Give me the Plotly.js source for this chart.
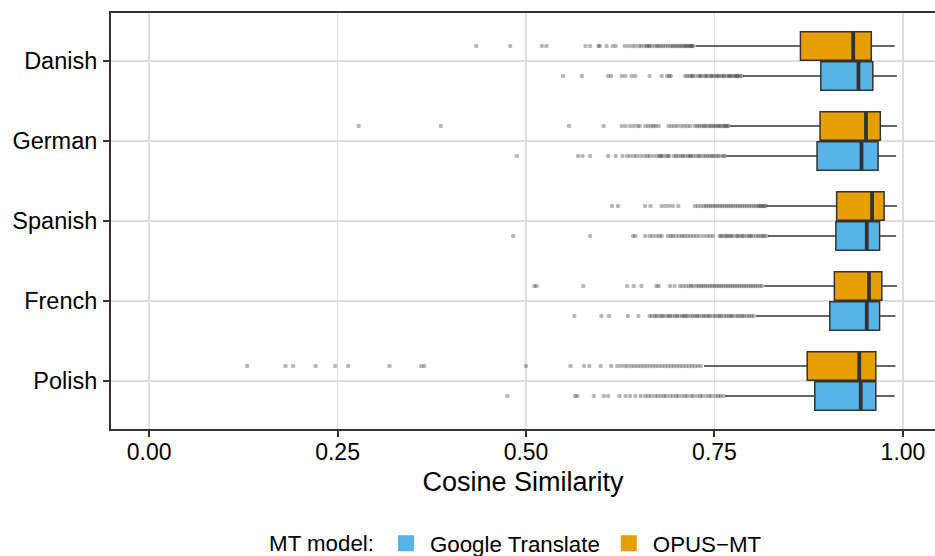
<!DOCTYPE html>
<html>
<head>
<meta charset="utf-8">
<script src="https://cdn.plot.ly/plotly-3.0.1.min.js"></script>
<style>html,body{margin:0;padding:0;background:#fff;}#chart{width:935px;height:556px;}</style>
</head>
<body>
<div id="chart"></div>
<script>
// ---- data ----
var languages = ["Danish", "German", "Spanish", "French", "Polish"];
var tickValues = [0, 0.25, 0.5, 0.75, 1];
var tickLabels = ["0.00", "0.25", "0.50", "0.75", "1.00"];
var modelNames = ["Google Translate", "OPUS\u2212MT"];

// Google Translate box statistics (order = languages)
var googleQ1 = [0.891, 0.886, 0.911, 0.903, 0.883];
var googleMedian = [0.941, 0.945, 0.952, 0.952, 0.944];
var googleQ3 = [0.960, 0.967, 0.969, 0.969, 0.964];
var googleLower = [0.788, 0.766, 0.821, 0.805, 0.764];
var googleUpper = [0.992, 0.991, 0.991, 0.990, 0.989];

// OPUS-MT box statistics
var opusQ1 = [0.864, 0.890, 0.912, 0.909, 0.873];
var opusMedian = [0.934, 0.951, 0.959, 0.955, 0.942];
var opusQ3 = [0.958, 0.970, 0.975, 0.972, 0.964];
var opusLower = [0.725, 0.771, 0.819, 0.816, 0.736];
var opusUpper = [0.989, 0.992, 0.992, 0.992, 0.990];

// Outliers, Google Translate
var googleOutDanish = [0.549, 0.574, 0.609, 0.613, 0.627, 0.632, 0.640, 0.645, 0.664, 0.680, 0.687, 0.690, 0.692, 0.711, 0.714, 0.717, 0.720, 0.721, 0.725, 0.729, 0.731, 0.733, 0.737, 0.739, 0.741, 0.745, 0.746, 0.749, 0.752, 0.754, 0.756, 0.759, 0.762, 0.763, 0.767, 0.769, 0.771, 0.773, 0.776, 0.778, 0.780, 0.781, 0.784, 0.786];
var googleOutGerman = [0.488, 0.569, 0.575, 0.585, 0.609, 0.619, 0.628, 0.634, 0.638, 0.643, 0.647, 0.652, 0.657, 0.661, 0.664, 0.669, 0.674, 0.677, 0.679, 0.681, 0.685, 0.688, 0.690, 0.696, 0.699, 0.702, 0.706, 0.708, 0.711, 0.715, 0.717, 0.719, 0.722, 0.726, 0.729, 0.731, 0.735, 0.738, 0.741, 0.744, 0.747, 0.749, 0.753, 0.755, 0.759, 0.762, 0.764];
var googleOutSpanish = [0.483, 0.585, 0.642, 0.645, 0.658, 0.664, 0.668, 0.673, 0.677, 0.680, 0.688, 0.692, 0.695, 0.699, 0.703, 0.707, 0.710, 0.714, 0.718, 0.722, 0.726, 0.730, 0.735, 0.740, 0.744, 0.748, 0.757, 0.759, 0.762, 0.765, 0.767, 0.770, 0.772, 0.775, 0.779, 0.781, 0.784, 0.787, 0.789, 0.793, 0.796, 0.798, 0.801, 0.805, 0.808, 0.811, 0.814, 0.816, 0.819];
var googleOutFrench = [0.564, 0.600, 0.610, 0.635, 0.649, 0.664, 0.667, 0.671, 0.673, 0.677, 0.680, 0.682, 0.686, 0.689, 0.691, 0.694, 0.698, 0.700, 0.703, 0.707, 0.709, 0.712, 0.714, 0.718, 0.721, 0.724, 0.727, 0.729, 0.733, 0.736, 0.739, 0.742, 0.744, 0.748, 0.751, 0.754, 0.757, 0.759, 0.763, 0.766, 0.769, 0.772, 0.774, 0.778, 0.781, 0.784, 0.787, 0.789, 0.793, 0.796, 0.799, 0.802];
var googleOutPolish = [0.475, 0.565, 0.568, 0.590, 0.603, 0.609, 0.624, 0.632, 0.638, 0.645, 0.652, 0.658, 0.662, 0.666, 0.671, 0.675, 0.679, 0.683, 0.686, 0.691, 0.695, 0.699, 0.702, 0.707, 0.711, 0.714, 0.719, 0.722, 0.727, 0.731, 0.734, 0.739, 0.743, 0.746, 0.751, 0.755, 0.758, 0.762];

// Outliers, OPUS-MT
var opusOutDanish = [0.434, 0.479, 0.521, 0.527, 0.579, 0.585, 0.596, 0.598, 0.607, 0.615, 0.619, 0.631, 0.636, 0.641, 0.645, 0.650, 0.653, 0.657, 0.660, 0.662, 0.664, 0.667, 0.671, 0.674, 0.676, 0.679, 0.682, 0.685, 0.688, 0.691, 0.694, 0.696, 0.699, 0.701, 0.704, 0.706, 0.709, 0.711, 0.713, 0.715, 0.717, 0.719, 0.720, 0.722];
var opusOutGerman = [0.278, 0.387, 0.557, 0.603, 0.627, 0.632, 0.638, 0.643, 0.648, 0.651, 0.658, 0.662, 0.666, 0.669, 0.672, 0.676, 0.689, 0.693, 0.697, 0.701, 0.706, 0.710, 0.714, 0.718, 0.724, 0.727, 0.730, 0.733, 0.736, 0.738, 0.741, 0.744, 0.746, 0.749, 0.751, 0.754, 0.756, 0.758, 0.761, 0.763, 0.765, 0.767, 0.769];
var opusOutSpanish = [0.614, 0.622, 0.658, 0.665, 0.680, 0.685, 0.690, 0.695, 0.702, 0.724, 0.728, 0.732, 0.736, 0.739, 0.742, 0.745, 0.748, 0.751, 0.754, 0.757, 0.760, 0.763, 0.766, 0.769, 0.772, 0.775, 0.778, 0.781, 0.784, 0.787, 0.790, 0.793, 0.796, 0.799, 0.802, 0.805, 0.808, 0.810, 0.812, 0.814, 0.816, 0.818];
var opusOutFrench = [0.511, 0.514, 0.576, 0.634, 0.643, 0.653, 0.673, 0.676, 0.691, 0.697, 0.704, 0.708, 0.712, 0.716, 0.719, 0.722, 0.726, 0.729, 0.732, 0.735, 0.738, 0.741, 0.744, 0.747, 0.750, 0.753, 0.756, 0.759, 0.762, 0.765, 0.768, 0.771, 0.774, 0.777, 0.780, 0.783, 0.786, 0.789, 0.792, 0.795, 0.798, 0.801, 0.804, 0.807, 0.810, 0.813];
var opusOutPolish = [0.130, 0.181, 0.191, 0.221, 0.247, 0.264, 0.319, 0.361, 0.365, 0.500, 0.559, 0.577, 0.584, 0.599, 0.613, 0.621, 0.626, 0.631, 0.635, 0.640, 0.644, 0.648, 0.652, 0.656, 0.660, 0.664, 0.668, 0.672, 0.676, 0.680, 0.684, 0.688, 0.692, 0.696, 0.700, 0.704, 0.708, 0.712, 0.716, 0.720, 0.724, 0.728, 0.732];

var googleOutliers = [googleOutDanish, googleOutGerman, googleOutSpanish, googleOutFrench, googleOutPolish];
var opusOutliers = [opusOutDanish, opusOutGerman, opusOutSpanish, opusOutFrench, opusOutPolish];

// ---- styles ----
var colGoogle = "#56B4E9";
var colOpus = "#E69F00";
var edge = "#333333";
var fontFam = "Liberation Sans, Arial, Helvetica, sans-serif";

function flatten(groups) {
  var xs = [], ys = [];
  groups.forEach(function (arr, i) {
    arr.forEach(function (v) { xs.push(v); ys.push(languages[i]); });
  });
  return {x: xs, y: ys};
}

function boxTrace(q1, med, q3, lo, hi, fill, group) {
  return {
    type: "box", orientation: "h", y: languages,
    q1: q1, median: med, q3: q3, lowerfence: lo, upperfence: hi,
    boxpoints: false, fillcolor: fill,
    line: {color: edge, width: 1.5}, whiskerwidth: 0,
    offsetgroup: group, showlegend: false, hoverinfo: "skip"
  };
}
function medianTrace(med, group) {
  return {
    type: "box", orientation: "h", y: languages,
    q1: med, median: med, q3: med, lowerfence: med, upperfence: med,
    boxpoints: false, fillcolor: "rgba(0,0,0,0)",
    line: {color: edge, width: 3.8}, whiskerwidth: 0,
    offsetgroup: group, showlegend: false, hoverinfo: "skip"
  };
}
function outlierTrace(groups, group) {
  var f = flatten(groups);
  return {
    type: "scatter", mode: "markers", orientation: "h",
    x: f.x, y: f.y, offsetgroup: group,
    marker: {size: 4.5, color: "rgba(0,0,0,0.28)", line: {width: 0}},
    showlegend: false, hoverinfo: "skip"
  };
}
function legendTrace(name, color) {
  return {
    type: "scatter", mode: "markers", x: [null], y: [null], name: name,
    xaxis: "x2", yaxis: "y2",
    marker: {symbol: "square", size: 16, color: color, line: {width: 0}},
    showlegend: true, hoverinfo: "skip"
  };
}

var data = [
  boxTrace(googleQ1, googleMedian, googleQ3, googleLower, googleUpper, colGoogle, "g"),
  boxTrace(opusQ1, opusMedian, opusQ3, opusLower, opusUpper, colOpus, "o"),
  medianTrace(googleMedian, "g"),
  medianTrace(opusMedian, "o"),
  outlierTrace(googleOutliers, "g"),
  outlierTrace(opusOutliers, "o"),
  legendTrace(modelNames[0], colGoogle),
  legendTrace(modelNames[1], colOpus)
];

var layout = {
  width: 935, height: 556,
  margin: {l: 111, r: 0, t: 13, b: 127},
  paper_bgcolor: "#ffffff", plot_bgcolor: "#ffffff",
  font: {family: fontFam, color: "#000000", size: 23},
  boxmode: "group", boxgap: 0.25, boxgroupgap: 0.05,
  scattermode: "group", scattergap: 0.25,
  showlegend: true,
  xaxis: {
    range: [-0.0505, 1.0425],
    tickmode: "array", tickvals: tickValues, ticktext: tickLabels,
    ticks: "outside", ticklen: 6, tickwidth: 2, tickcolor: edge,
    ticklabelstandoff: -5,
    showline: true, linecolor: edge, linewidth: 2, mirror: true,
    showgrid: true, gridcolor: "#DEDEDE", gridwidth: 1.3, zeroline: false,
    tickfont: {size: 23, color: "#000000"},
    title: {text: "Cosine Similarity", font: {size: 27, color: "#000000"}, standoff: 9}
  },
  yaxis: {
    type: "category", categoryorder: "array",
    categoryarray: languages.slice().reverse(),
    range: [-0.6, 4.6],
    ticks: "outside", ticklen: 6, tickwidth: 2, tickcolor: edge,
    ticklabelstandoff: 1,
    showline: true, linecolor: edge, linewidth: 2,
    showgrid: true, gridcolor: "#DEDEDE", gridwidth: 1.3, zeroline: false,
    tickfont: {size: 23.5, color: "#000000"}
  },
  xaxis2: {visible: false, domain: [0, 0.01], anchor: "y2", range: [0, 1]},
  yaxis2: {visible: false, domain: [0, 0.01], anchor: "x2", range: [0, 1]},
  legend: {
    orientation: "h", xref: "container", yref: "container",
    x: 0.553, xanchor: "center", y: 0.023, yanchor: "middle",
    itemwidth: 38,
    title: {text: "MT model:", side: "left", font: {size: 22.3}},
    font: {size: 22.3, color: "#000000"},
    traceorder: "normal", bgcolor: "rgba(0,0,0,0)"
  }
};

Plotly.newPlot("chart", data, layout, {displayModeBar: false, staticPlot: true});
</script>
</body>
</html>
